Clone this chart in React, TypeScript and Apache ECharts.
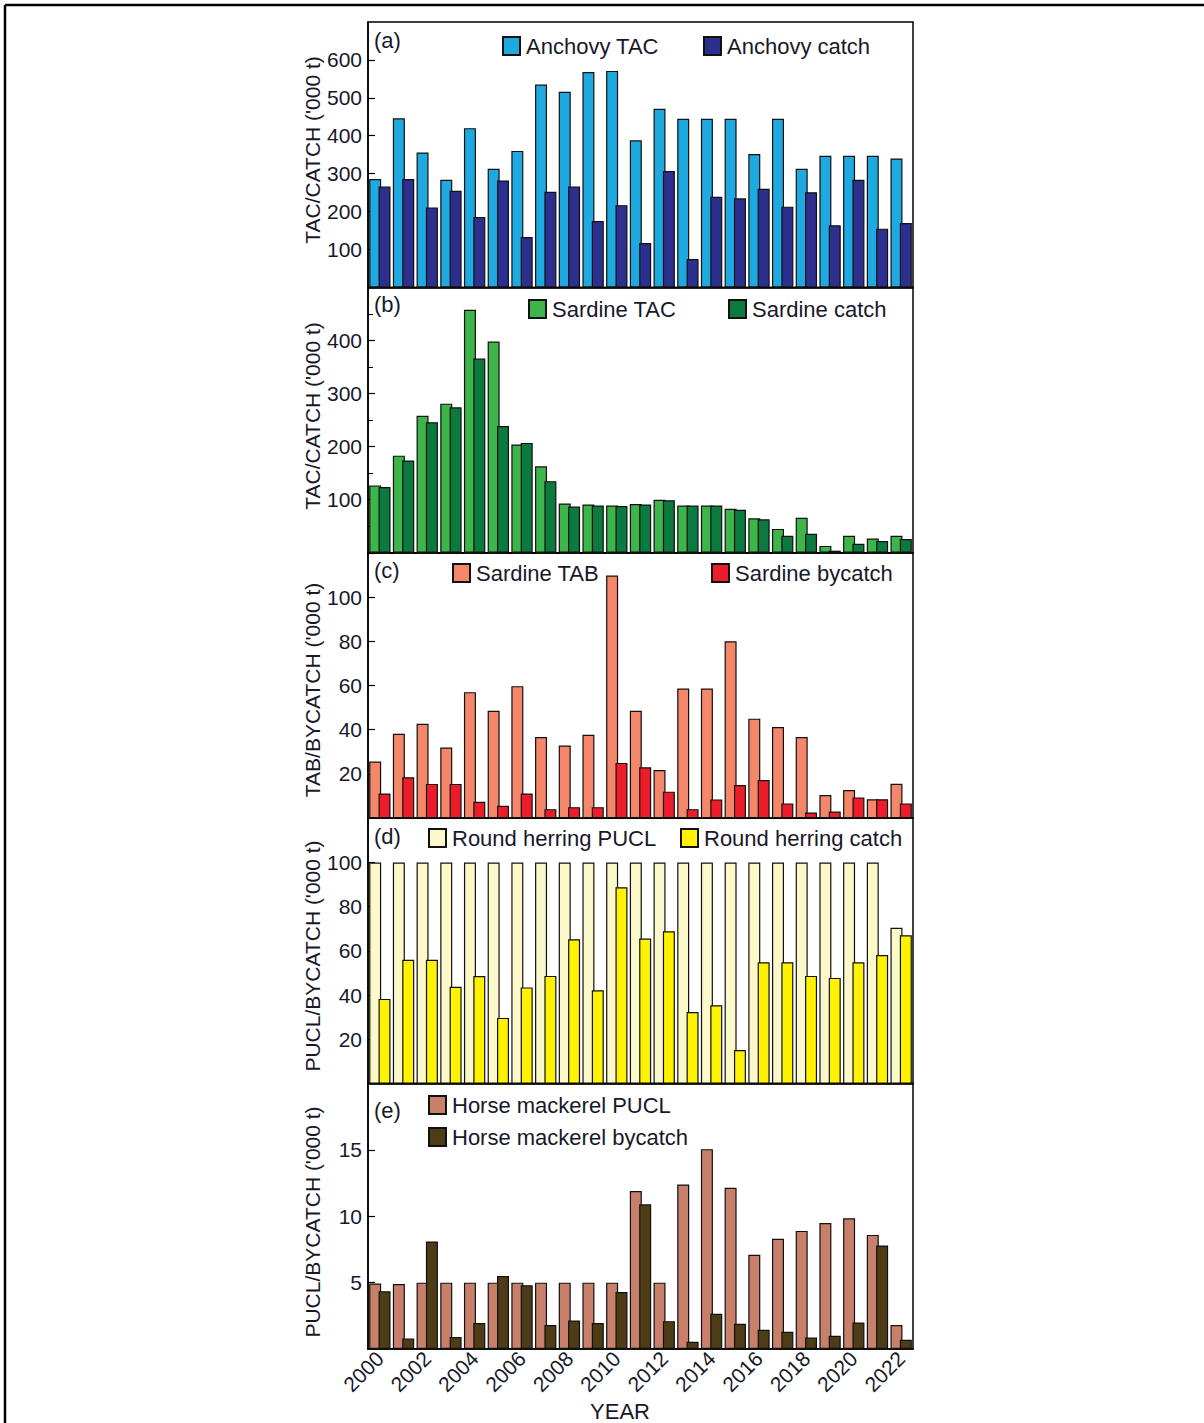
import React, { useEffect, useRef } from "react";
import * as echarts from "echarts";

const years = [
  "2000", "2001", "2002", "2003", "2004", "2005", "2006", "2007", "2008", "2009", "2010", "2011",
  "2012", "2013", "2014", "2015", "2016", "2017", "2018", "2019", "2020", "2021", "2022",
];

const anchovyTAC = [286, 446, 356, 284, 420, 313, 360, 535, 516, 568, 571, 388, 471, 445, 445, 445, 352, 445, 313, 347, 347, 347, 340];
const anchovyCatch = [266, 286, 211, 255, 186, 282, 133, 252, 266, 175, 217, 117, 307, 75, 239, 235, 260, 213, 251, 164, 284, 155, 170];

const sardineTAC = [127, 183, 258, 281, 458, 398, 204, 163, 93, 91, 89, 92, 100, 89, 89, 83, 65, 45, 66, 13, 32, 27, 32];
const sardineCatch = [124, 174, 246, 274, 366, 239, 207, 135, 87, 89, 88, 91, 99, 89, 89, 81, 63, 32, 36, 4, 17, 22, 26];

const sardineTAB = [25.6, 38.2, 42.7, 32, 57, 48.6, 59.7, 36.7, 32.9, 37.7, 109.7, 48.6, 21.8, 58.6, 58.6, 80, 45, 41.2, 36.7, 10.5, 12.7, 8.6, 15.6];
const sardineBycatch = [11.2, 18.5, 15.5, 15.5, 7.4, 5.6, 11.2, 4.1, 5, 5, 25, 23, 12, 4.1, 8.5, 15, 17.3, 6.7, 2.6, 3, 9.4, 8.6, 6.7];

const herringPUCL = [100, 100, 100, 100, 100, 100, 100, 100, 100, 100, 100, 100, 100, 100, 100, 100, 100, 100, 100, 100, 100, 100, 70.5];
const herringCatch = [38.3, 56, 56, 43.8, 48.6, 29.7, 43.5, 48.7, 65.3, 42.2, 88.8, 65.6, 68.9, 32.4, 35.4, 15.2, 54.9, 54.9, 48.7, 47.8, 54.9, 58.1, 67.1];

const mackerelPUCL = [4.94, 4.9, 5, 5, 5, 5, 5, 5, 5, 5, 5, 11.9, 5, 12.4, 15.06, 12.15, 7.1, 8.3, 8.9, 9.5, 9.85, 8.6, 1.8];
const mackerelBycatch = [4.35, 0.8, 8.1, 0.9, 1.95, 5.5, 4.8, 1.8, 2.15, 1.95, 4.3, 10.9, 2.1, 0.55, 2.66, 1.9, 1.45, 1.3, 0.86, 1.0, 2.0, 7.8, 0.7];

const yMax = [700, 500, 120, 120, 20];
const yInterval = [100, 100, 20, 20, 5];
const yTitles = [
  "TAC/CATCH ('000 t)",
  "TAC/CATCH ('000 t)",
  "TAB/BYCATCH ('000 t)",
  "PUCL/BYCATCH ('000 t)",
  "PUCL/BYCATCH ('000 t)",
];
const panelTags = ["(a)", "(b)", "(c)", "(d)", "(e)"];

const FONT = "'Liberation Sans', Arial, Helvetica, sans-serif";
const TXT = "#18182a";

export default function App() {
  const ref = useRef<HTMLDivElement>(null);

  useEffect(() => {
    document.body.style.margin = "0";
    if (!ref.current) return;
    const chart = echarts.init(ref.current, null, { renderer: "svg" });

    const gridLeft = 368;
    const gridWidth = 545;
    const gridTop0 = 22;
    const gridH = 265.4;

    const seriesDefs = [
      { name: "Anchovy TAC", data: anchovyTAC, color: "#1EA9E1", panel: 0 },
      { name: "Anchovy catch", data: anchovyCatch, color: "#2D2F8E", panel: 0 },
      { name: "Sardine TAC", data: sardineTAC, color: "#3DB54A", panel: 1 },
      { name: "Sardine catch", data: sardineCatch, color: "#0B7A3F", panel: 1 },
      { name: "Sardine TAB", data: sardineTAB, color: "#F4866A", panel: 2 },
      { name: "Sardine bycatch", data: sardineBycatch, color: "#EC1C2A", panel: 2 },
      { name: "Round herring PUCL", data: herringPUCL, color: "#FBF8C9", panel: 3 },
      { name: "Round herring catch", data: herringCatch, color: "#FFF200", panel: 3 },
      { name: "Horse mackerel PUCL", data: mackerelPUCL, color: "#C9806A", panel: 4 },
      { name: "Horse mackerel bycatch", data: mackerelBycatch, color: "#4E3C17", panel: 4 },
    ];

    const legendPos = [
      [502, 35], [703, 35],
      [528, 298], [728, 298],
      [452, 562], [711, 562],
      [428, 827], [680, 827],
      [428, 1094], [428, 1126],
    ];

    const grids = [0, 1, 2, 3, 4].map((i) => ({
      left: gridLeft,
      top: gridTop0 + i * gridH,
      width: gridWidth,
      height: gridH,
      show: true,
      borderColor: "#000",
      borderWidth: 1.5,
      backgroundColor: "transparent",
    }));

    const xAxes = [0, 1, 2, 3, 4].map((i) => ({
      type: "category",
      gridIndex: i,
      data: years,
      axisLine: { show: true, lineStyle: { color: "#000", width: 1.5 } },
      axisTick: { show: false },
      axisLabel:
        i === 4
          ? {
              show: true,
              interval: 1,
              rotate: 45,
              fontSize: 21,
              fontFamily: FONT,
              color: TXT,
              margin: 6,
            }
          : { show: false },
    }));

    const yAxes = [0, 1, 2, 3, 4].map((i) => ({
      type: "value",
      gridIndex: i,
      min: 0,
      max: yMax[i],
      interval: yInterval[i],
      axisLine: { show: true, lineStyle: { color: "#000", width: 1.5 } },
      axisTick: { show: true, inside: true, length: 7, lineStyle: { color: "#000", width: 1.2 } },
      minorTick:
        i === 1
          ? { show: true, splitNumber: 2, length: 5, lineStyle: { color: "#000", width: 1 } }
          : { show: false },
      splitLine: { show: false },
      axisLabel: {
        showMinLabel: false,
        showMaxLabel: false,
        fontSize: 21,
        fontFamily: FONT,
        color: TXT,
        margin: 6,
      },
    }));

    const series = seriesDefs.map((s) => ({
      type: "bar",
      name: s.name,
      xAxisIndex: s.panel,
      yAxisIndex: s.panel,
      data: s.data,
      barWidth: 12,
      barGap: "-22%",
      itemStyle: { color: s.color, borderColor: "#111", borderWidth: 1.2 },
    }));

    const legends = seriesDefs.map((s, k) => ({
      data: [s.name],
      left: legendPos[k][0],
      top: legendPos[k][1],
      orient: "horizontal",
      icon: "rect",
      itemWidth: 17,
      itemHeight: 18,
      padding: 0,
      selectedMode: false,
      textStyle: { fontSize: 22, fontFamily: FONT, color: TXT, padding: [0, 0, 0, 1] },
    }));

    const graphics: any[] = [];
    graphics.push({ type: "line", shape: { x1: 5, y1: 5, x2: 1204, y2: 5 }, style: { stroke: "#000", lineWidth: 2.5 } });
    graphics.push({ type: "line", shape: { x1: 5, y1: 5, x2: 5, y2: 1423 }, style: { stroke: "#000", lineWidth: 2.5 } });

    const titleCenters = [150, 416, 690, 956, 1222];
    const tagY = [40, 304, 570, 836, 1110];
    for (let i = 0; i < 5; i++) {
      graphics.push({
        type: "text",
        x: 312,
        y: titleCenters[i],
        rotation: Math.PI / 2,
        style: {
          text: yTitles[i],
          fontSize: 21,
          fontFamily: FONT,
          fill: TXT,
          align: "center",
          verticalAlign: "middle",
        },
      });
      graphics.push({
        type: "text",
        x: 374,
        y: tagY[i],
        style: {
          text: panelTags[i],
          fontSize: 22,
          fontFamily: FONT,
          fill: TXT,
          align: "left",
          verticalAlign: "middle",
        },
      });
    }
    graphics.push({
      type: "text",
      x: 620,
      y: 1411,
      style: { text: "YEAR", fontSize: 22, fontFamily: FONT, fill: TXT, align: "center", verticalAlign: "middle" },
    });

    chart.setOption({
      animation: false,
      backgroundColor: "#fff",
      grid: grids,
      xAxis: xAxes,
      yAxis: yAxes,
      series,
      legend: legends,
      graphic: graphics,
    } as any);

    return () => chart.dispose();
  }, []);

  return <div ref={ref} style={{ width: 1204, height: 1423 }} />;
}
